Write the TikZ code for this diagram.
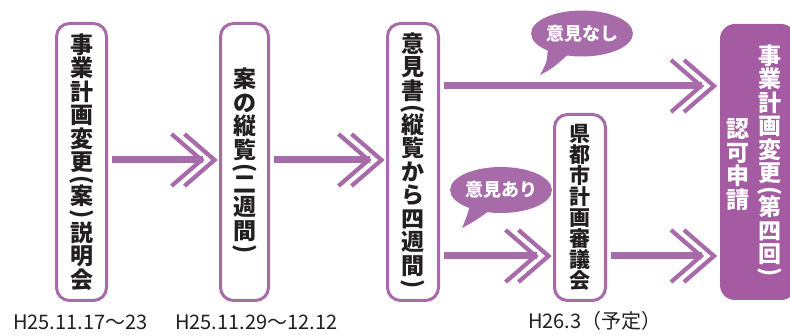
\documentclass[tikz,border=0pt]{standalone}
\usepackage{fontspec}
\usepackage{graphicx}
\usetikzlibrary{calc,shapes.geometric}
\newfontfamily\jp{Noto Sans CJK JP}
\definecolor{pur}{HTML}{A86BAA}
\definecolor{purf}{HTML}{A55BA2}
\definecolor{inkc}{HTML}{231F20}
\newcommand\vpo{\rotatebox[origin=c]{-90}{(}}
\newcommand\vpc{\rotatebox[origin=c]{-90}{)}}
\newcommand\dchev[1]{%
  \draw[chev] ($(#1)+(-30,-26)$) -- (#1) -- ($(#1)+(-30,26)$);
  \draw[chev] ($(#1)+(-43,-26)$) -- ($(#1)+(-13,0)$) -- ($(#1)+(-43,26)$);}
\tikzset{
  box/.style={draw=pur, line width=3pt, rounded corners=13pt, outer sep=0pt, inner sep=0pt,
    minimum height=277pt, align=center, text=inkc, font=\jp\bfseries\fontsize{23}{23.5}\selectfont},
  filledbox/.style={fill=purf, rounded corners=15pt, outer sep=0pt, inner sep=0pt},
  wtext/.style={align=center, text=white, inner sep=0pt, font=\jp\bfseries\fontsize{23}{23.5}\selectfont},
  conn/.style={draw=pur, line width=7pt},
  chev/.style={draw=pur, line width=4.2pt, miter limit=10},
  bubble/.style={ellipse, fill=pur, text=white, inner sep=0pt, font=\jp\bfseries\fontsize{18}{20}\selectfont},
  tail/.style={fill=pur},
  datetext/.style={font=\jp\fontsize{20}{24}\selectfont, anchor=base west, inner sep=0pt, text=inkc},
}
\begin{document}
\begin{tikzpicture}[x=1pt,y=-1pt]
\useasboundingbox (0,0) rectangle (790,336);

% boxes
\node[box, minimum width=50pt] (n1) at (81.5,162)
  {事\\業\\計\\画\\変\\更\\[-6.5pt]\vpo\\[-6.5pt]案\\[-6.5pt]\vpc\\[-4pt]説\\明\\会};
\node[box, minimum width=48pt] (n2) at (244.5,162)
  {案\\の\\縦\\覧\\[-6.5pt]\vpo\\[-6.5pt]二\\週\\間\\[-6.5pt]\vpc};
\node[box, minimum width=51pt] (n3) at (413,162)
  {意\\見\\書\\[-6.5pt]\vpo\\[-6.5pt]縦\\覧\\か\\ら\\四\\週\\間\\[-6.5pt]\vpc};
\node[box, minimum width=51pt, minimum height=186pt, font=\jp\bfseries\fontsize{21}{21}\selectfont] (n4) at (580,207.5)
  {県\\都\\市\\計\\画\\審\\議\\会};
\node[filledbox, minimum width=76pt, minimum height=276pt] (n5) at (758,162) {};
\node[wtext] (n5a) at (770,162)
  {事\\業\\計\\画\\変\\更\\[-6.5pt]\vpo\\[-6.5pt]第\\四\\回\\[-6.5pt]\vpc};
\node[wtext] (n5b) at (738,164.5) {認\\可\\申\\請};

% line levels
\coordinate (ymid) at (0,160);
\coordinate (ytop) at (0,86);
\coordinate (ybot) at (0,256);

% tips
\coordinate (t1) at ($(n2.west |- ymid)+(-6,0)$);
\coordinate (t2) at ($(n3.west |- ymid)+(-6,0)$);
\coordinate (t3) at ($(n5.west |- ytop)+(-6,0)$);
\coordinate (t4) at ($(n4.west |- ybot)+(-6,0)$);
\coordinate (t5) at ($(n5.west |- ybot)+(-6,0)$);

% connectors
\draw[conn] ($(n1.east |- ymid)+(5,0)$) -- ($(t1)+(-12,0)$);
\dchev{t1}
\draw[conn] ($(n2.east |- ymid)+(5,0)$) -- ($(t2)+(-12,0)$);
\dchev{t2}
\draw[conn] ($(n3.east |- ytop)+(5,0)$) -- ($(t3)+(-12,0)$);
\dchev{t3}
\draw[conn] ($(n3.east |- ybot)+(5,0)$) -- ($(t4)+(-12,0)$);
\dchev{t4}
\draw[conn] ($(n4.east |- ybot)+(5,0)$) -- ($(t5)+(-12,0)$);
\dchev{t5}

% bubbles
\node[bubble, minimum width=90pt, minimum height=46pt] (b1) at (582,33.5) {意見なし};
\coordinate (b1tip) at (540,75);
\fill[tail] ($(b1.center)+(-34,12)$) .. controls (547,62) .. (b1tip)
  .. controls (553,68) .. ($(b1.center)+(-14,21)$) -- cycle;
\node[bubble, minimum width=92pt, minimum height=46pt] (b2) at (501,190) {意見あり};
\coordinate (b2tip) at (462,228);
\fill[tail] ($(b2.center)+(-30,12)$) .. controls (467,216) .. (b2tip)
  .. controls (475,221) .. ($(b2.center)+(-12,21)$) -- cycle;

% dates
\node[datetext] (d1) at (13,330) {H25.11.17～23};
\node[datetext] (d2) at (175,330) {H25.11.29～12.12};
\node[datetext] (d3) at (528,329) {H26.3（予定）};
\end{tikzpicture}
\end{document}
